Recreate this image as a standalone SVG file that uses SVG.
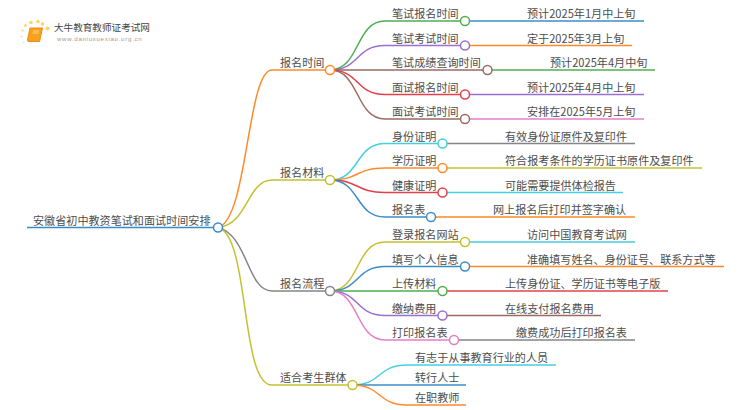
<svg xmlns="http://www.w3.org/2000/svg" width="750" height="410" viewBox="0 0 750 410">
<style>
text{font-family:"Noto Sans CJK SC","Noto Sans",sans-serif;font-size:11.100px;fill:#4d4d4d}
path,line,circle{fill:none;stroke-width:1.500}
circle{fill:#fff}
.b{stroke:#3a8cc8}.o{stroke:#ff8a2a}.g{stroke:#4caf50}.p{stroke:#9b6fd0}.br{stroke:#9a6a62}.r{stroke:#e5404a}.pk{stroke:#e87cc8}.gy{stroke:#858585}.ol{stroke:#c4c030}.c{stroke:#45cfe0}
</style>
<rect width="750" height="410" fill="#fff"/>
<g id="logo">
<circle cx="47.500" cy="28.500" r="2" style="fill:#fbd36a;stroke:none"/><circle cx="38" cy="21.500" r="1.800" style="fill:#fbd36a;stroke:none"/><circle cx="31" cy="22.500" r="1.800" style="fill:#fbd36a;stroke:none"/><circle cx="25.500" cy="25.500" r="1.500" style="fill:#fbd97f;stroke:none"/><circle cx="42.500" cy="24" r="1.800" style="fill:#fbd36a;stroke:none"/><circle cx="22.500" cy="30.500" r="1.300" style="fill:#fde29a;stroke:none"/><circle cx="21.500" cy="36.500" r="1.100" style="fill:#fde29a;stroke:none"/><circle cx="23.500" cy="42.500" r="1" style="fill:#fdeab5;stroke:none"/>
<path d="M30 28H42.500L39.500 41.500H28L27.500 40Z" style="fill:#f7a21a;stroke:#ee8a18;stroke-width:1"/>
<path d="M33 31H39M32.500 33H38.500" style="stroke:#fde3a8;stroke-width:.8"/>
<text x="54" y="31" style="font-size:9.600px;fill:#444">大牛教育教师证考试网</text>
<text x="57" y="41" style="font-size:6px;fill:#999;letter-spacing:.75px;font-family:'Liberation Sans',sans-serif">www.daniuxuexiao.org.cn</text>
</g>
<g id="connectors">
<path class="o" d="M218 227.500C248 220 247 70 272 70H330"/>
<path class="ol" d="M218 227.500C248 225 247 180 272 180H330"/>
<path class="gy" d="M218 227.500C248 235 247 291 272 291H330"/>
<path class="ol" d="M218 227.500C250 235 240 385 272 385H352"/>
<path class="g" d="M330 70C360 70 355 21 385 21H465"/><path class="b" d="M465 21H644"/>
<path class="p" d="M330 70C360 70 355 45.500 385 45.500H465"/><path class="o" d="M465 45.500H632"/>
<path class="br" d="M330 70H487"/><path class="g" d="M487 70H655"/>
<path class="r" d="M330 70C360 70 355 94.500 385 94.500H465"/><path class="p" d="M465 94.500H644"/>
<path class="br" d="M330 70C360 70 355 119 385 119H465"/><path class="pk" d="M465 119H644"/>
<path class="c" d="M330 180C360 180 355 143.500 385 143.500H442"/><path class="gy" d="M442 143.500H635"/>
<path class="o" d="M330 180C360 180 355 168 385 168H442"/><path class="ol" d="M442 168H702"/>
<path class="r" d="M330 180C360 180 355 192.500 385 192.500H442"/><path class="c" d="M442 192.500H623"/>
<path class="b" d="M330 180C360 180 355 217 385 217H431"/><path class="o" d="M431 217H635"/>
<path class="ol" d="M330 291C360 291 355 242 385 242H465"/><path class="c" d="M465 242H635"/>
<path class="b" d="M330 291C360 291 355 266.500 385 266.500H465"/><path class="o" d="M465 266.500H724"/>
<path class="g" d="M330 291H442"/><path class="r" d="M442 291H668"/>
<path class="p" d="M330 291C360 291 355 315.500 385 315.500H442"/><path class="br" d="M442 315.500H601"/>
<path class="pk" d="M330 291C360 291 355 340 385 340H454"/><path class="gy" d="M454 340H635"/>
<path class="c" d="M352 385C382 385 377 365 407 365H556"/>
<path class="b" d="M352 385H466"/>
<path class="o" d="M352 385C382 385 377 405 407 405H466"/>
<path class="b" d="M27 227.500H218"/>
</g>
<g id="root"><text x="33" y="225">安徽省初中教资笔试和面试时间安排</text><circle class="b" cx="218" cy="227.500" r="4.500"/></g>
<g id="n1"><text x="280" y="67">报名时间</text><circle class="o" cx="330" cy="70" r="4.500"/></g>
<g id="n2"><text x="280" y="177">报名材料</text><circle class="ol" cx="330" cy="180" r="4.500"/></g>
<g id="n3"><text x="280" y="288">报名流程</text><circle class="gy" cx="330" cy="291" r="4.500"/></g>
<g id="n4"><text x="280" y="382">适合考生群体</text><circle class="ol" cx="352.500" cy="385" r="4.500"/></g>
<g id="n11"><text x="392" y="18">笔试报名时间</text><circle class="g" cx="465" cy="21" r="4.500"/><text x="527" y="18">预计2025年1月中上旬</text></g>
<g id="n12"><text x="392" y="42.500">笔试考试时间</text><circle class="p" cx="465" cy="45.500" r="4.500"/><text x="527" y="42.500">定于2025年3月上旬</text></g>
<g id="n13"><text x="392" y="67">笔试成绩查询时间</text><circle class="br" cx="487.500" cy="70" r="4.500"/><text x="550" y="67">预计2025年4月中旬</text></g>
<g id="n14"><text x="392" y="91.500">面试报名时间</text><circle class="r" cx="465" cy="94.500" r="4.500"/><text x="527" y="91.500">预计2025年4月中上旬</text></g>
<g id="n15"><text x="392" y="116">面试考试时间</text><circle class="br" cx="465" cy="119" r="4.500"/><text x="527" y="116">安排在2025年5月上旬</text></g>
<g id="n21"><text x="392" y="140.500">身份证明</text><circle class="c" cx="442.500" cy="143.500" r="4.500"/><text x="505" y="140.500">有效身份证原件及复印件</text></g>
<g id="n22"><text x="392" y="165">学历证明</text><circle class="o" cx="442.500" cy="168" r="4.500"/><text x="505" y="165">符合报考条件的学历证书原件及复印件</text></g>
<g id="n23"><text x="392" y="189.500">健康证明</text><circle class="r" cx="442.500" cy="192.500" r="4.500"/><text x="505" y="189.500">可能需要提供体检报告</text></g>
<g id="n24"><text x="392" y="214">报名表</text><circle class="b" cx="431" cy="217" r="4.500"/><text x="493" y="214">网上报名后打印并签字确认</text></g>
<g id="n31"><text x="392" y="239">登录报名网站</text><circle class="ol" cx="465" cy="242" r="4.500"/><text x="527" y="239">访问中国教育考试网</text></g>
<g id="n32"><text x="392" y="263.500">填写个人信息</text><circle class="b" cx="465" cy="266.500" r="4.500"/><text x="527" y="263.500">准确填写姓名、身份证号、联系方式等</text></g>
<g id="n33"><text x="392" y="288">上传材料</text><circle class="g" cx="442.500" cy="291" r="4.500"/><text x="505" y="288">上传身份证、学历证书等电子版</text></g>
<g id="n34"><text x="392" y="312.500">缴纳费用</text><circle class="p" cx="442.500" cy="315.500" r="4.500"/><text x="505" y="312.500">在线支付报名费用</text></g>
<g id="n35"><text x="392" y="337">打印报名表</text><circle class="pk" cx="454" cy="340" r="4.500"/><text x="516" y="337">缴费成功后打印报名表</text></g>
<g id="n41"><text x="415" y="362">有志于从事教育行业的人员</text></g>
<g id="n42"><text x="415" y="382">转行人士</text></g>
<g id="n43"><text x="415" y="402">在职教师</text></g>
</svg>
